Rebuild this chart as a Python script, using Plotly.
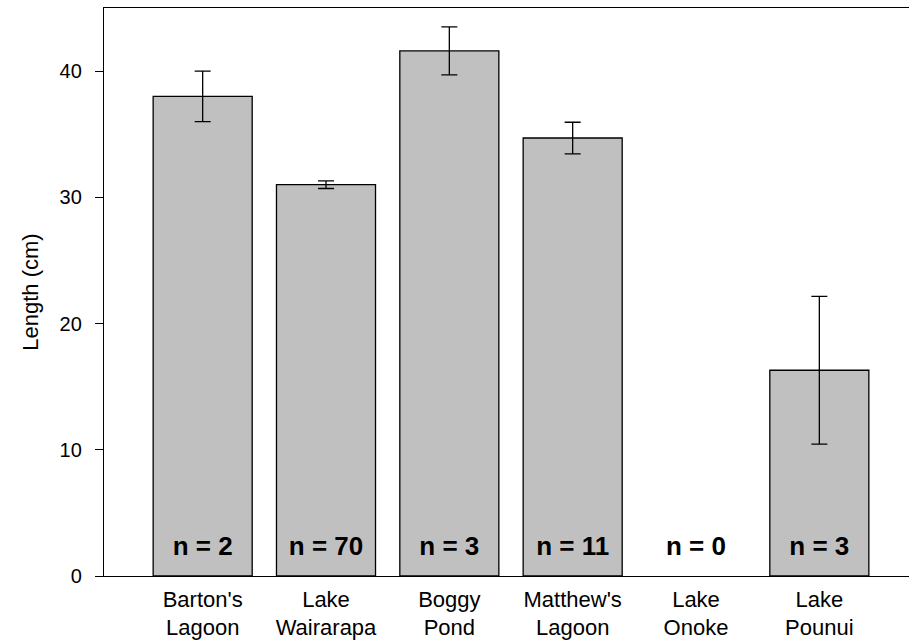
import plotly.graph_objects as go

sites = ["Barton's<br>Lagoon", "Lake<br>Wairarapa", "Boggy<br>Pond", "Matthew's<br>Lagoon", "Lake<br>Onoke", "Lake<br>Pounui"]
lengths = [38.0, 31.0, 41.6, 34.7, None, 16.3]
errors = [2.0, 0.3, 1.9, 1.25, None, 5.85]
n_labels = ["n = 2", "n = 70", "n = 3", "n = 11", "n = 0", "n = 3"]

FONT = "Liberation Sans, Arial, sans-serif"
xs = list(range(len(sites)))

fig = go.Figure()
fig.add_trace(go.Bar(
    x=xs, y=lengths, width=0.803,
    marker=dict(color="#c0c0c0", line=dict(color="black", width=1.3)),
    error_y=dict(type="data", array=errors, visible=True,
                 color="black", thickness=1.3, width=8),
    showlegend=False,
))
fig.add_trace(go.Scatter(
    x=xs, y=[2.2] * len(xs), mode="text", text=n_labels,
    textfont=dict(family=FONT, size=26, color="black", weight="bold"),
    showlegend=False, hoverinfo="skip",
))

fig.update_layout(
    width=909, height=644,
    margin=dict(l=104, r=0, t=8, b=68, pad=0),
    plot_bgcolor="white", paper_bgcolor="white",
    font=dict(family=FONT, size=20, color="black"),
    xaxis=dict(
        range=[-0.80, 5.727], tickmode="array", tickvals=xs, ticktext=sites,
        showline=True, linecolor="black", linewidth=1.3, mirror=True,
        ticks="", showgrid=False, zeroline=False, ticklabelstandoff=3,
        tickfont=dict(size=22),
    ),
    yaxis=dict(
        range=[0, 45], tickvals=[0, 10, 20, 30, 40],
        showline=True, linecolor="black", linewidth=1.3,
        ticks="outside", ticklen=8, tickwidth=1.3, tickcolor="black",
        showgrid=False, zeroline=False, ticklabelstandoff=9,
        title=dict(text="Length (cm)", font=dict(size=22), standoff=14),
        tickfont=dict(size=20),
    ),
)

fig.write_html("out.html")
